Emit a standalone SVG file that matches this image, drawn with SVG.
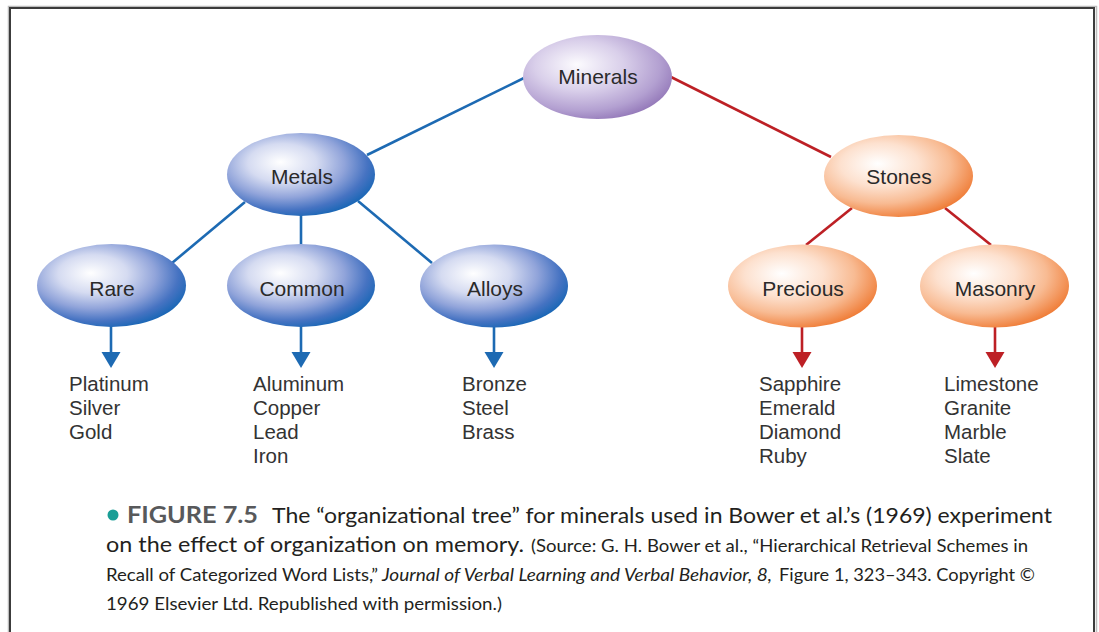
<svg xmlns="http://www.w3.org/2000/svg" width="1099" height="632" viewBox="0 0 1099 632">
  <defs>
    <radialGradient id="gPurple" cx="0.4" cy="0.38" r="0.66" fx="0.36" fy="0.35">
      <stop offset="0" stop-color="#fcfbfe"/>
      <stop offset="0.45" stop-color="#d9cfea"/>
      <stop offset="0.8" stop-color="#b3a0d1"/>
      <stop offset="1" stop-color="#9479b9"/>
    </radialGradient>
    <radialGradient id="gBlue" cx="0.4" cy="0.38" r="0.66" fx="0.36" fy="0.35">
      <stop offset="0" stop-color="#ffffff"/>
      <stop offset="0.35" stop-color="#d5dbf1"/>
      <stop offset="0.62" stop-color="#91a4da"/>
      <stop offset="0.84" stop-color="#4673c2"/>
      <stop offset="1" stop-color="#1766b5"/>
    </radialGradient>
    <radialGradient id="gOrange" cx="0.4" cy="0.38" r="0.66" fx="0.36" fy="0.35">
      <stop offset="0" stop-color="#ffffff"/>
      <stop offset="0.4" stop-color="#fde1cf"/>
      <stop offset="0.7" stop-color="#f8bb93"/>
      <stop offset="1" stop-color="#ef7b35"/>
    </radialGradient>
  </defs>
  <style>
    .frame { fill: none; stroke: #3c3c3c; stroke-width: 2; }
    .frameShade { fill: none; stroke: #bdbdbd; stroke-width: 1.5; }
    .blue { stroke: #1d6ab3; stroke-width: 2.6; fill: none; }
    .red { stroke: #bd2025; stroke-width: 2.6; fill: none; }
    .headBlue { fill: #1d6ab3; }
    .headRed { fill: #bd2025; }
    .label { font-family: "Liberation Sans", Arial, sans-serif; font-size: 21px; fill: #2a2a2a; text-anchor: middle; }
    .item { font-family: "Liberation Sans", Arial, sans-serif; font-size: 20.5px; fill: #333333; }
    .cap { font-family: Lato, "Liberation Sans", sans-serif; fill: #231f20; }
    .capBig { font-size: 22px; }
    .capSmall { font-size: 16.8px; }
    .capFig { font-weight: bold; fill: #58595b; }
  </style>

  <rect width="1099" height="632" fill="#ffffff"/>
  <!-- page frame, open at the bottom -->
  <path class="frameShade" d="M8.5,632 V6.5 H1096.5 V632"/>
  <path class="frame" d="M10,632 V8 H1094 V632"/>

  <!-- connectors -->
  <g id="connectors">
    <line class="blue" x1="524" y1="78" x2="367" y2="155"/>
    <line class="red" x1="671" y1="77" x2="831" y2="157"/>
    <line class="blue" x1="245" y1="202" x2="172" y2="263"/>
    <line class="blue" x1="301" y1="215" x2="301" y2="245"/>
    <line class="blue" x1="358" y1="201" x2="432" y2="263"/>
    <line class="red" x1="852" y1="208" x2="806" y2="245"/>
    <line class="red" x1="945" y1="208" x2="991" y2="245"/>

    <!-- arrows down to the word lists -->
    <line class="blue" x1="111" y1="326" x2="111" y2="353"/>
    <path class="headBlue" d="M101.5,352 H120.5 L111,368 Z"/>
    <line class="blue" x1="301" y1="326" x2="301" y2="353"/>
    <path class="headBlue" d="M291.5,352 H310.5 L301,368 Z"/>
    <line class="blue" x1="494" y1="326" x2="494" y2="353"/>
    <path class="headBlue" d="M484.5,352 H503.5 L494,368 Z"/>
    <line class="red" x1="802" y1="327" x2="802" y2="353"/>
    <path class="headRed" d="M792.5,352 H811.5 L802,368 Z"/>
    <line class="red" x1="995" y1="327" x2="995" y2="353"/>
    <path class="headRed" d="M985.5,352 H1004.5 L995,368 Z"/>
  </g>

  <!-- nodes -->
  <g id="node-minerals">
    <ellipse cx="597.5" cy="77" rx="74.5" ry="42" fill="url(#gPurple)"/>
    <text class="label" x="598" y="84">Minerals</text>
  </g>
  <g id="node-metals">
    <ellipse cx="301" cy="174.5" rx="74" ry="41.5" fill="url(#gBlue)"/>
    <text class="label" x="302" y="184">Metals</text>
  </g>
  <g id="node-stones">
    <ellipse cx="898.5" cy="176" rx="74.5" ry="41" fill="url(#gOrange)"/>
    <text class="label" x="899" y="184">Stones</text>
  </g>
  <g id="node-rare">
    <ellipse cx="111.5" cy="285.5" rx="74.5" ry="41.5" fill="url(#gBlue)"/>
    <text class="label" x="112" y="296">Rare</text>
  </g>
  <g id="node-common">
    <ellipse cx="301" cy="285.5" rx="74" ry="41.5" fill="url(#gBlue)"/>
    <text class="label" x="302" y="296">Common</text>
  </g>
  <g id="node-alloys">
    <ellipse cx="494" cy="286" rx="74" ry="41.5" fill="url(#gBlue)"/>
    <text class="label" x="495" y="296">Alloys</text>
  </g>
  <g id="node-precious">
    <ellipse cx="802.5" cy="286" rx="74.5" ry="41.5" fill="url(#gOrange)"/>
    <text class="label" x="803" y="296">Precious</text>
  </g>
  <g id="node-masonry">
    <ellipse cx="994.5" cy="286" rx="74.5" ry="41.5" fill="url(#gOrange)"/>
    <text class="label" x="995" y="296">Masonry</text>
  </g>

  <!-- word lists -->
  <g id="list-rare">
    <text class="item" x="69" y="391">Platinum</text>
    <text class="item" x="69" y="415">Silver</text>
    <text class="item" x="69" y="439">Gold</text>
  </g>
  <g id="list-common">
    <text class="item" x="253" y="391">Aluminum</text>
    <text class="item" x="253" y="415">Copper</text>
    <text class="item" x="253" y="439">Lead</text>
    <text class="item" x="253" y="463">Iron</text>
  </g>
  <g id="list-alloys">
    <text class="item" x="462" y="391">Bronze</text>
    <text class="item" x="462" y="415">Steel</text>
    <text class="item" x="462" y="439">Brass</text>
  </g>
  <g id="list-precious">
    <text class="item" x="759" y="391">Sapphire</text>
    <text class="item" x="759" y="415">Emerald</text>
    <text class="item" x="759" y="439">Diamond</text>
    <text class="item" x="759" y="463">Ruby</text>
  </g>
  <g id="list-masonry">
    <text class="item" x="944" y="391">Limestone</text>
    <text class="item" x="944" y="415">Granite</text>
    <text class="item" x="944" y="439">Marble</text>
    <text class="item" x="944" y="463">Slate</text>
  </g>

  <!-- caption -->
  <g id="caption">
    <circle cx="113" cy="515" r="5.5" fill="#1a9e96"/>
    <text class="cap capBig capFig" x="127" y="523" textLength="131" lengthAdjust="spacingAndGlyphs">FIGURE 7.5</text>
    <text class="cap capBig" x="272" y="523" textLength="780" lengthAdjust="spacingAndGlyphs">The “organizational tree” for minerals used in Bower et al.’s (1969) experiment</text>
    <text class="cap capBig" x="106" y="552" textLength="418" lengthAdjust="spacingAndGlyphs">on the effect of organization on memory.</text>
    <text class="cap capSmall" x="531" y="552" textLength="497" lengthAdjust="spacingAndGlyphs">(Source: G. H. Bower et al., “Hierarchical Retrieval Schemes in</text>
    <text class="cap capSmall" x="106" y="581" textLength="272" lengthAdjust="spacingAndGlyphs">Recall of Categorized Word Lists,”</text>
    <text class="cap capSmall" x="382" y="581" font-style="italic" textLength="390" lengthAdjust="spacingAndGlyphs">Journal of Verbal Learning and Verbal Behavior, 8,</text>
    <text class="cap capSmall" x="779" y="581" textLength="256" lengthAdjust="spacingAndGlyphs">Figure 1, 323–343. Copyright ©</text>
    <text class="cap capSmall" x="106" y="610" textLength="396" lengthAdjust="spacingAndGlyphs">1969 Elsevier Ltd. Republished with permission.)</text>
  </g>
</svg>
